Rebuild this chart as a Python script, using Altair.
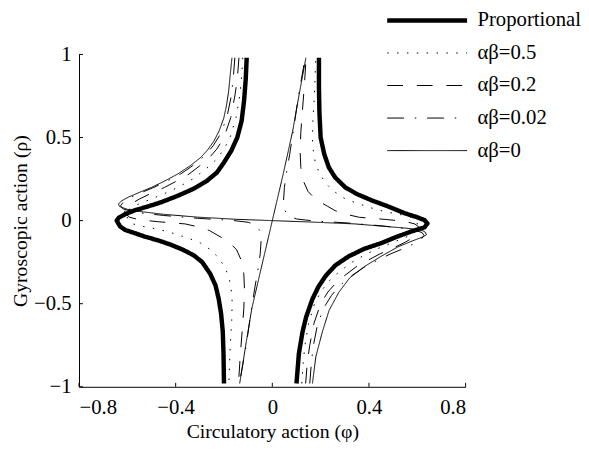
import altair as alt
import pandas as pd

series_names = ["Proportional", "αβ=0.5", "αβ=0.2", "αβ=0.02", "αβ=0"]
dash_styles = [[1, 0], [1.5, 8.5], [16, 14], [17, 11, 1.5, 11], [1, 0]]
line_widths = [4.5, 1, 1, 1, 1]

x_ticks = [-0.8, -0.4, 0, 0.4, 0.8]
y_ticks = [-1, -0.5, 0, 0.5, 1]

# Proportional
prop_left = [(-0.106,0.98),(-0.11,0.85),(-0.117,0.72),(-0.127,0.6),(-0.145,0.5),(-0.17,0.42),(-0.2,0.35),
             (-0.229,0.29),(-0.27,0.24),(-0.324,0.193),(-0.39,0.15),(-0.461,0.11),(-0.52,0.083),(-0.569,0.062),
             (-0.61,0.038),(-0.635,0.018),(-0.644,0.0),(-0.63,-0.035),(-0.609,-0.056),(-0.57,-0.075),(-0.528,-0.096),
             (-0.47,-0.12),(-0.42,-0.145),(-0.37,-0.175),(-0.324,-0.21),(-0.29,-0.25),(-0.257,-0.32),(-0.235,-0.39),
             (-0.222,-0.47),(-0.212,-0.56),(-0.205,-0.668),(-0.202,-0.8),(-0.2,-0.98)]
prop_right = [(0.193,0.98),(0.193,0.8),(0.195,0.65),(0.2,0.5),(0.215,0.4),(0.234,0.32),(0.26,0.26),(0.302,0.2),
              (0.35,0.16),(0.411,0.122),(0.48,0.085),(0.547,0.045),(0.6,0.02),(0.63,0.003),(0.642,-0.017),
              (0.63,-0.04),(0.574,-0.066),(0.51,-0.1),(0.452,-0.135),(0.38,-0.17),(0.316,-0.215),(0.26,-0.27),
              (0.22,-0.334),(0.19,-0.4),(0.166,-0.472),(0.14,-0.58),(0.125,-0.67),(0.11,-0.8),(0.1,-0.98)]

# alpha*beta = 0.5 (dotted)
ab05_left = [(-0.122,0.98),(-0.128,0.85),(-0.135,0.75),(-0.15,0.62),(-0.175,0.5),(-0.2,0.43),(-0.23,0.37),
             (-0.275,0.31),(-0.33,0.25),(-0.39,0.2),(-0.45,0.16),(-0.51,0.125),(-0.56,0.095),(-0.595,0.065),
             (-0.605,0.04),(-0.598,0.01),(-0.576,-0.02),(-0.528,-0.037),(-0.48,-0.05),(-0.433,-0.066),
             (-0.385,-0.088),(-0.34,-0.11),(-0.297,-0.135),(-0.256,-0.175),(-0.222,-0.224),(-0.195,-0.284),
             (-0.178,-0.349),(-0.17,-0.417),(-0.166,-0.49),(-0.168,-0.6),(-0.174,-0.75),(-0.18,-0.98)]
ab05_right = [(0.122,-0.98),(0.128,-0.85),(0.135,-0.75),(0.15,-0.62),(0.175,-0.5),(0.2,-0.43),(0.23,-0.37),
              (0.275,-0.31),(0.33,-0.25),(0.39,-0.2),(0.45,-0.16),(0.51,-0.125),(0.56,-0.095),(0.595,-0.065),
              (0.605,-0.04),(0.598,-0.01),(0.576,0.02),(0.528,0.037),(0.48,0.05),(0.433,0.066),
              (0.385,0.088),(0.34,0.11),(0.297,0.135),(0.256,0.175),(0.222,0.224),(0.195,0.284),
              (0.178,0.349),(0.17,0.417),(0.166,0.49),(0.168,0.6),(0.174,0.75),(0.18,0.98)]

# alpha*beta = 0.2 (dashed)
ab02_left = [(-0.138,0.98),(-0.145,0.85),(-0.155,0.75),(-0.172,0.62),(-0.2,0.5),(-0.23,0.43),(-0.26,0.38),
             (-0.3,0.33),(-0.345,0.28),(-0.4,0.235),(-0.446,0.2),(-0.5,0.165),(-0.55,0.13),(-0.585,0.1),
             (-0.608,0.07),(-0.612,0.045),(-0.59,0.02),(-0.55,0.005),(-0.47,-0.007),(-0.36,-0.02),(-0.3,-0.04),
             (-0.26,-0.06),(-0.229,-0.086),(-0.181,-0.126),(-0.148,-0.175),(-0.128,-0.24),(-0.118,-0.32),
             (-0.115,-0.42),(-0.118,-0.53),(-0.124,-0.65),(-0.132,-0.8),(-0.14,-0.98)]
ab02_right = [(0.138,-0.98),(0.145,-0.85),(0.155,-0.75),(0.172,-0.62),(0.2,-0.5),(0.23,-0.43),(0.26,-0.38),
              (0.3,-0.33),(0.345,-0.28),(0.4,-0.235),(0.446,-0.2),(0.5,-0.165),(0.55,-0.13),(0.585,-0.1),
              (0.608,-0.07),(0.612,-0.045),(0.59,-0.02),(0.55,-0.005),(0.47,0.007),(0.36,0.02),(0.3,0.04),
              (0.26,0.06),(0.229,0.086),(0.181,0.126),(0.148,0.175),(0.128,0.24),(0.118,0.32),
              (0.115,0.42),(0.118,0.53),(0.124,0.65),(0.132,0.8),(0.14,0.98)]

# alpha*beta = 0.02 (dash-dot)
ab002_left = [(-0.155,0.98),(-0.162,0.85),(-0.17,0.75),(-0.188,0.62),(-0.215,0.52),(-0.245,0.45),(-0.28,0.39),
              (-0.33,0.33),(-0.38,0.28),(-0.44,0.235),(-0.49,0.2),(-0.54,0.17),(-0.585,0.14),(-0.615,0.115),
              (-0.628,0.09),(-0.62,0.072),(-0.59,0.058),(-0.55,0.047),(-0.45,0.031),(-0.31,0.014),(-0.17,0.002),
              (-0.1,-0.01),(-0.068,-0.028),(-0.052,-0.06),(-0.046,-0.11),(-0.05,-0.2),(-0.06,-0.3),(-0.072,-0.4),
              (-0.088,-0.55),(-0.108,-0.75),(-0.136,-0.98)]
ab002_right = [(0.155,-0.98),(0.162,-0.85),(0.17,-0.75),(0.188,-0.62),(0.215,-0.52),(0.245,-0.45),(0.28,-0.39),
               (0.33,-0.33),(0.38,-0.28),(0.44,-0.235),(0.49,-0.2),(0.54,-0.17),(0.585,-0.14),(0.615,-0.115),
               (0.628,-0.09),(0.62,-0.072),(0.59,-0.058),(0.55,-0.047),(0.45,-0.031),(0.31,-0.014),(0.17,-0.002),
               (0.1,0.01),(0.068,0.028),(0.052,0.06),(0.046,0.11),(0.05,0.2),(0.06,0.3),(0.072,0.4),
               (0.088,0.55),(0.108,0.75),(0.136,0.98)]

# alpha*beta = 0 (thin solid)
ab0_left = [(-0.167,0.98),(-0.174,0.88),(-0.181,0.775),(-0.19,0.69),(-0.201,0.616),(-0.22,0.54),(-0.242,0.478),
            (-0.268,0.425),(-0.297,0.379),(-0.34,0.33),(-0.392,0.28),(-0.45,0.235),(-0.5,0.2),(-0.55,0.17),
            (-0.596,0.141),(-0.625,0.118),(-0.637,0.1),(-0.632,0.085),(-0.6,0.068),(-0.55,0.055),(-0.45,0.038),
            (-0.31,0.021),(-0.15,0.008),(0.0,0.0),(-0.045,-0.28),(-0.085,-0.53),(-0.11,-0.75),(-0.135,-0.98)]
ab0_right = [(0.166,-0.98),(0.18,-0.82),(0.207,-0.67),(0.235,-0.54),(0.275,-0.432),(0.32,-0.345),(0.384,-0.274),
             (0.45,-0.215),(0.52,-0.158),(0.58,-0.122),(0.62,-0.1),(0.638,-0.085),(0.632,-0.068),(0.615,-0.056),
             (0.55,-0.045),(0.45,-0.033),(0.343,-0.02),(0.15,-0.008),(0.0,0.0),(0.045,0.28),(0.084,0.537),
             (0.11,0.75),(0.139,0.98)]

branches = [
    ("Proportional", prop_left, prop_right),
    ("αβ=0.5", ab05_left, ab05_right),
    ("αβ=0.2", ab02_left, ab02_right),
    ("αβ=0.02", ab002_left, ab002_right),
    ("αβ=0", ab0_left, ab0_right),
]

rows = []
for name, left, right in branches:
    for tag, pts in (("L", left), ("R", right)):
        for i, (px, py) in enumerate(pts):
            rows.append({"series": name, "branch": name + tag, "order": i, "x": px, "y": py})
df = pd.DataFrame(rows)

FONT = "Liberation Serif"
FS = 21
TFS = 20

x_enc = alt.X("x:Q", scale=alt.Scale(domain=[-0.8, 0.8], nice=False, zero=False),
              axis=alt.Axis(values=x_ticks, format=".1~f", title="Circulatory action (φ)", ticks=False,
                            labelPadding=10, titlePadding=4, grid=False))
y_enc = alt.Y("y:Q", scale=alt.Scale(domain=[-1, 1], nice=False, zero=False),
              axis=alt.Axis(values=y_ticks, format=".1~f", title="Gyroscopic action (ρ)", ticks=False,
                            labelPadding=8, titlePadding=3, grid=False))

leg = alt.Legend(orient="none", legendX=310, legendY=-45, title=None, symbolType="stroke",
                 symbolSize=6561, symbolStrokeColor="black", labelFont=FONT, labelFontSize=FS,
                 labelColor="black", labelOffset=8, rowPadding=11, clipHeight=21)

lines = alt.Chart(df).mark_line(color="black", strokeCap="butt", strokeJoin="round", clip=True).encode(
    x=x_enc,
    y=y_enc,
    detail="branch:N",
    order="order:Q",
    strokeDash=alt.StrokeDash("series:N", scale=alt.Scale(type="ordinal", domain=series_names, range=dash_styles), legend=leg),
    strokeWidth=alt.StrokeWidth("series:N", scale=alt.Scale(type="ordinal", domain=series_names, range=line_widths), legend=leg),
)

xt = pd.DataFrame({"x": x_ticks})
yt = pd.DataFrame({"y": y_ticks})
xtick_layer = alt.Chart(xt).mark_rule(color="black", strokeWidth=1).encode(
    x=x_enc, y=alt.value(337), y2=alt.value(333))
ytick_layer = alt.Chart(yt).mark_rule(color="black", strokeWidth=1).encode(
    y=y_enc, x=alt.value(0), x2=alt.value(4))

chart = alt.layer(lines, xtick_layer, ytick_layer).properties(
    width=392, height=337,
    background="white",
    autosize=alt.AutoSizeParams(type="none"),
    padding={"left": 72, "top": 44, "right": 117, "bottom": 61},
).configure_view(stroke=None).configure_axis(
    domainColor="black", domainWidth=1, labelFont=FONT, labelFontSize=FS, labelColor="black",
    titleFont=FONT, titleFontSize=TFS, titleFontWeight="normal", titleColor="black",
)

chart.save("out.html", embed_options={"renderer": "svg", "actions": False})
